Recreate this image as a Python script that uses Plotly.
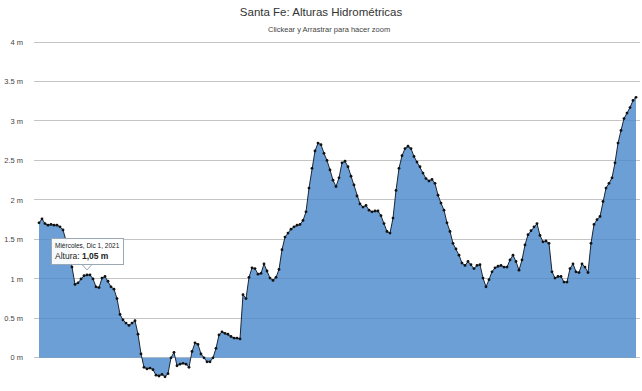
import plotly.graph_objects as go

# Heights (m), one point per day (left to right)
alturas = [
    1.71, 1.76, 1.70, 1.68, 1.69, 1.68, 1.68, 1.66, 1.62, 1.50,
    1.35, 1.15, 0.93, 0.95, 1.00, 1.04, 1.05, 1.05, 1.00, 0.90,
    0.89, 1.01, 1.03, 0.97, 0.90, 0.87, 0.75, 0.55, 0.48, 0.44,
    0.41, 0.44, 0.47, 0.30, 0.05, -0.12, -0.14, -0.13, -0.15, -0.22,
    -0.23, -0.21, -0.24, -0.20, 0.00, 0.07, -0.10, -0.08, -0.07, -0.08,
    -0.12, 0.08, 0.19, 0.17, 0.05, 0.00, -0.05, -0.05, 0.00, 0.12,
    0.29, 0.33, 0.31, 0.30, 0.27, 0.25, 0.25, 0.24, 0.80, 0.75,
    1.02, 1.14, 1.13, 1.06, 1.07, 1.19, 1.10, 1.01, 0.98, 1.02,
    1.12, 1.37, 1.53, 1.58, 1.63, 1.66, 1.68, 1.69, 1.74, 1.85,
    2.15, 2.40, 2.62, 2.72, 2.70, 2.59, 2.50, 2.38, 2.25, 2.17,
    2.28, 2.47, 2.49, 2.42, 2.30, 2.19, 2.05, 1.95, 1.91, 1.93,
    1.87, 1.85, 1.86, 1.86, 1.80, 1.70, 1.60, 1.58, 1.77, 2.12,
    2.40, 2.56, 2.65, 2.68, 2.65, 2.55, 2.48, 2.42, 2.34, 2.27,
    2.24, 2.26, 2.21, 2.06, 1.96, 1.87, 1.71, 1.60, 1.45, 1.38,
    1.30, 1.20, 1.17, 1.22, 1.18, 1.13, 1.17, 1.18, 1.01, 0.90,
    0.99, 1.09, 1.14, 1.16, 1.17, 1.15, 1.15, 1.24, 1.30, 1.22,
    1.11, 1.24, 1.43, 1.56, 1.61, 1.66, 1.70, 1.55, 1.47, 1.48,
    1.45, 1.09, 1.01, 1.03, 1.03, 0.96, 0.96, 1.13, 1.19, 1.09,
    1.08, 1.19, 1.15, 1.08, 1.45, 1.69, 1.75, 1.79, 1.98, 2.15,
    2.21, 2.28, 2.47, 2.72, 2.88, 3.03, 3.10, 3.17, 3.26, 3.30,
]
dias = list(range(len(alturas)))

tick_vals = [0, 0.5, 1, 1.5, 2, 2.5, 3, 3.5, 4]
tick_text = ["0 m", "0.5 m", "1 m", "1.5 m", "2 m", "2.5 m", "3 m", "3.5 m", "4 m"]

titulo = "Santa Fe: Alturas Hidrométricas"
subtitulo = "Clickear y Arrastrar para hacer zoom"
tooltip_idx = 16
tooltip_fecha = "Miércoles, Dic 1, 2021"
tooltip_valor = "1,05 m"

fig = go.Figure()
fig.add_trace(go.Scatter(
    x=dias, y=alturas, mode="lines+markers",
    fill="tozeroy", fillcolor="rgba(74,138,204,0.82)",
    line=dict(color="#1c2635", width=1),
    marker=dict(color="#111111", size=2.8),
    hoverinfo="skip",
))

fig.add_annotation(
    x=tooltip_idx, y=alturas[tooltip_idx], xref="x", yref="y",
    text=f"<span style='font-size:6.5px'>{tooltip_fecha}</span><br>Altura: <b>{tooltip_valor}</b>",
    showarrow=False, yanchor="bottom", yshift=10, align="left",
    bgcolor="rgba(255,255,255,0.95)", bordercolor="#9aa8b4", borderwidth=1, borderpad=3,
    font=dict(family="Liberation Sans, Arial, sans-serif", size=8.5, color="#222"),
)
fig.add_shape(
    type="path", xref="x", yref="y", xsizemode="pixel", ysizemode="pixel",
    xanchor=tooltip_idx, yanchor=alturas[tooltip_idx],
    path="M -5,10.5 L 0,5 L 5,10.5 Z",
    fillcolor="white", line=dict(color="#9aa8b4", width=1), layer="above",
)

fig.update_layout(
    width=642, height=391,
    margin=dict(l=34, r=2, t=41, b=0),
    paper_bgcolor="white", plot_bgcolor="white",
    showlegend=False,
    font=dict(family="Liberation Sans, Arial, sans-serif"),
    title=dict(
        text=titulo, x=0.5, xanchor="center", y=1 - 12 / 391, yanchor="middle",
        font=dict(size=11.5, color="#333333"),
    ),
    annotations=list(fig.layout.annotations) + [dict(
        text=subtitulo, xref="paper", yref="paper", x=0.5 - 16 / 606 * 0.5, y=1 + 12 / 350,
        xanchor="center", yanchor="middle", showarrow=False,
        font=dict(size=7.5, color="#444444"),
    )],
)
fig.update_xaxes(
    range=[-5 / 3, len(alturas) - 1 + 4 / 3], visible=False, showgrid=False, zeroline=False,
)
fig.update_yaxes(
    range=[-0.42, 4.013], tickvals=tick_vals, ticktext=tick_text,
    showgrid=True, gridcolor="#c4c4c4", gridwidth=1,
    zeroline=True, zerolinecolor="#c4c4c4", zerolinewidth=1,
    showline=False, ticks="", ticklabelstandoff=10,
    tickfont=dict(size=7.5, color="#444444"),
)

fig.write_html("out.html")
